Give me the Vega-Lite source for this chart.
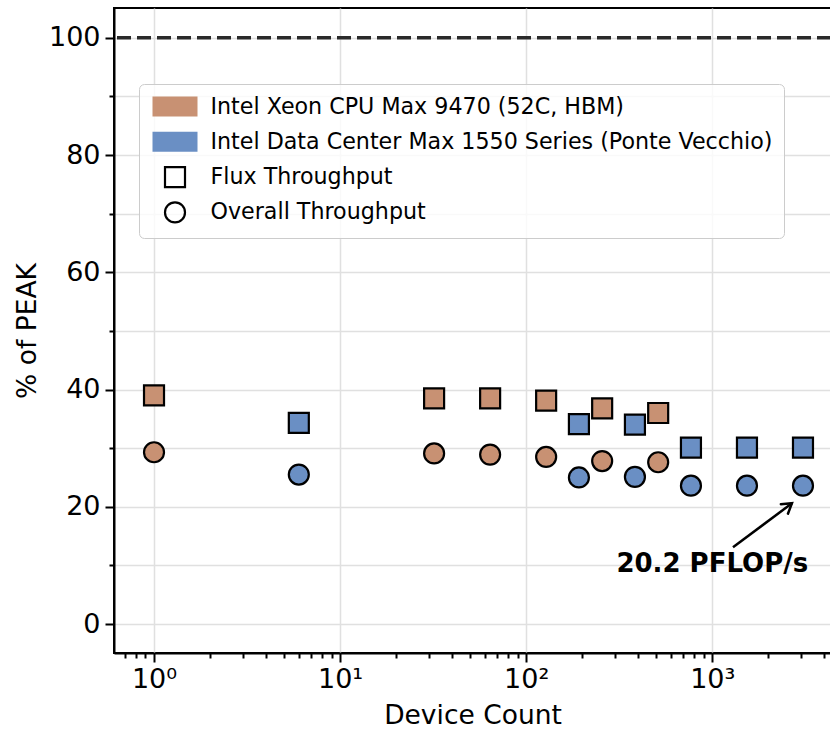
{
  "$schema": "https://vega.github.io/schema/vega-lite/v6.json",
  "autosize": "none",
  "width": 717,
  "height": 645,
  "padding": {"left": 114, "top": 8, "right": 0, "bottom": 83},
  "background": "white",
  "config": {
    "view": {"stroke": "black", "strokeWidth": 2},
    "font": "DejaVu Sans",
    "axis": {
      "domainColor": "black",
      "domainWidth": 2,
      "tickColor": "black",
      "tickWidth": 2,
      "gridColor": "#e0e0e0",
      "gridWidth": 1.5,
      "labelFont": "DejaVu Sans",
      "labelFontSize": 27,
      "labelColor": "black",
      "titleFont": "DejaVu Sans",
      "titleFontSize": 26.5,
      "titleFontWeight": "normal",
      "titleColor": "black",
      "labelFlush": false,
      "labelOverlap": false
    }
  },
  "datasets": {
    "points": [
      {"device": "Intel Xeon CPU Max 9470 (52C, HBM)", "metric": "Flux Throughput", "count": 1, "pct": 39.0},
      {"device": "Intel Xeon CPU Max 9470 (52C, HBM)", "metric": "Flux Throughput", "count": 32, "pct": 38.5},
      {"device": "Intel Xeon CPU Max 9470 (52C, HBM)", "metric": "Flux Throughput", "count": 64, "pct": 38.5},
      {"device": "Intel Xeon CPU Max 9470 (52C, HBM)", "metric": "Flux Throughput", "count": 128, "pct": 38.1},
      {"device": "Intel Xeon CPU Max 9470 (52C, HBM)", "metric": "Flux Throughput", "count": 256, "pct": 36.8},
      {"device": "Intel Xeon CPU Max 9470 (52C, HBM)", "metric": "Flux Throughput", "count": 512, "pct": 36.0},
      {"device": "Intel Xeon CPU Max 9470 (52C, HBM)", "metric": "Overall Throughput", "count": 1, "pct": 29.3},
      {"device": "Intel Xeon CPU Max 9470 (52C, HBM)", "metric": "Overall Throughput", "count": 32, "pct": 29.1},
      {"device": "Intel Xeon CPU Max 9470 (52C, HBM)", "metric": "Overall Throughput", "count": 64, "pct": 28.9},
      {"device": "Intel Xeon CPU Max 9470 (52C, HBM)", "metric": "Overall Throughput", "count": 128, "pct": 28.5},
      {"device": "Intel Xeon CPU Max 9470 (52C, HBM)", "metric": "Overall Throughput", "count": 256, "pct": 27.8},
      {"device": "Intel Xeon CPU Max 9470 (52C, HBM)", "metric": "Overall Throughput", "count": 512, "pct": 27.6},
      {"device": "Intel Data Center Max 1550 Series (Ponte Vecchio)", "metric": "Flux Throughput", "count": 6, "pct": 34.3},
      {"device": "Intel Data Center Max 1550 Series (Ponte Vecchio)", "metric": "Flux Throughput", "count": 192, "pct": 34.1},
      {"device": "Intel Data Center Max 1550 Series (Ponte Vecchio)", "metric": "Flux Throughput", "count": 384, "pct": 34.0},
      {"device": "Intel Data Center Max 1550 Series (Ponte Vecchio)", "metric": "Flux Throughput", "count": 768, "pct": 30.1},
      {"device": "Intel Data Center Max 1550 Series (Ponte Vecchio)", "metric": "Flux Throughput", "count": 1536, "pct": 30.1},
      {"device": "Intel Data Center Max 1550 Series (Ponte Vecchio)", "metric": "Flux Throughput", "count": 3072, "pct": 30.1},
      {"device": "Intel Data Center Max 1550 Series (Ponte Vecchio)", "metric": "Overall Throughput", "count": 6, "pct": 25.5},
      {"device": "Intel Data Center Max 1550 Series (Ponte Vecchio)", "metric": "Overall Throughput", "count": 192, "pct": 25.0},
      {"device": "Intel Data Center Max 1550 Series (Ponte Vecchio)", "metric": "Overall Throughput", "count": 384, "pct": 25.1},
      {"device": "Intel Data Center Max 1550 Series (Ponte Vecchio)", "metric": "Overall Throughput", "count": 768, "pct": 23.6},
      {"device": "Intel Data Center Max 1550 Series (Ponte Vecchio)", "metric": "Overall Throughput", "count": 1536, "pct": 23.6},
      {"device": "Intel Data Center Max 1550 Series (Ponte Vecchio)", "metric": "Overall Throughput", "count": 3072, "pct": 23.6}
    ],
    "peak": [
      {"pct": 100}
    ],
    "arrow": [
      {"count": 1292, "pct": 13.1, "count2": 2680, "pct2": 20.6}
    ],
    "label": [
      {"count": 1000, "pct": 10.3, "text": "20.2 PFLOP/s"}
    ]
  },
  "layer": [
    {
      "data": {"name": "points"},
      "mark": {"type": "point", "filled": true, "opacity": 1, "size": 400},
      "encoding": {
        "x": {
          "field": "count",
          "type": "quantitative",
          "scale": {"type": "log", "domain": [0.6095, 4345], "nice": false},
          "axis": {
            "title": "Device Count",
            "values": [0.7, 0.8, 0.9, 1, 2, 3, 4, 5, 6, 7, 8, 9, 10, 20, 30, 40, 50, 60, 70, 80, 90, 100, 200, 300, 400, 500, 600, 700, 800, 900, 1000, 2000, 3000, 4000],
            "labelExpr": "abs(log(datum.value)/LN10 - round(log(datum.value)/LN10)) < 1e-6 ? '10' + ['⁰','¹','²','³'][round(log(datum.value)/LN10)] : ''",
            "tickSize": {"condition": {"test": "abs(log(datum.value)/LN10 - round(log(datum.value)/LN10)) < 1e-6", "value": 9}, "value": 5},
            "gridOpacity": {"condition": {"test": "abs(log(datum.value)/LN10 - round(log(datum.value)/LN10)) < 1e-6", "value": 1}, "value": 0},
            "labelPadding": 4,
            "titlePadding": 10
          }
        },
        "y": {
          "field": "pct",
          "type": "quantitative",
          "scale": {"domain": [-4.94, 105.08], "nice": false, "zero": false},
          "axis": {
            "title": "% of PEAK",
            "values": [0, 10, 20, 30, 40, 50, 60, 70, 80, 90, 100],
            "labelExpr": "datum.value % 20 === 0 ? datum.value : ''",
            "tickSize": {"condition": {"test": "datum.value % 20 === 0", "value": 9}, "value": 5},
            "labelPadding": 5,
            "titlePadding": 7
          }
        },
        "color": {
          "field": "device",
          "type": "nominal",
          "scale": {
            "domain": ["Intel Xeon CPU Max 9470 (52C, HBM)", "Intel Data Center Max 1550 Series (Ponte Vecchio)", "Flux Throughput", "Overall Throughput"],
            "range": ["#c89173", "#6a8fc4", "transparent", "transparent"]
          },
          "legend": {
            "orient": "none",
            "legendX": 25,
            "legendY": 76,
            "title": null,
            "symbolSize": 400,
            "symbolStrokeWidth": 2.2,
            "symbolOpacity": 1,
            "symbolOffset": 13.5,
            "symbolType": {"expr": "datum.value === 'Flux Throughput' ? 'square' : datum.value === 'Overall Throughput' ? 'circle' : 'M-2.25,-1H2.25V1H-2.25Z'"},
            "symbolStrokeColor": {"expr": "datum.value === 'Flux Throughput' || datum.value === 'Overall Throughput' ? 'black' : 'transparent'"},
            "labelOffset": 24,
            "rowPadding": 6.3,
            "padding": 11,
            "fillColor": "rgba(255,255,255,0.8)",
            "strokeColor": "#cccccc",
            "cornerRadius": 5,
            "labelFont": "DejaVu Sans",
            "labelFontSize": 22.2,
            "labelColor": "black",
            "labelLimit": 800
          }
        },
        "shape": {
          "field": "metric",
          "type": "nominal",
          "scale": {"domain": ["Flux Throughput", "Overall Throughput"], "range": ["square", "circle"]},
          "legend": null
        }
      }
    },
    {
      "data": {"name": "points"},
      "mark": {"type": "point", "filled": false, "stroke": "black", "strokeWidth": 2.2, "opacity": 1, "size": 400},
      "encoding": {
        "x": {"field": "count", "type": "quantitative"},
        "y": {"field": "pct", "type": "quantitative"},
        "shape": {"field": "metric", "type": "nominal", "legend": null}
      }
    },
    {
      "data": {"name": "peak"},
      "mark": {"type": "rule", "strokeDash": [14, 6], "stroke": "#2a2a2a", "strokeWidth": 3.5},
      "encoding": {"y": {"field": "pct", "type": "quantitative"}}
    },
    {
      "data": {"name": "arrow"},
      "mark": {"type": "rule", "stroke": "black", "strokeWidth": 2.5},
      "encoding": {
        "x": {"field": "count", "type": "quantitative"},
        "y": {"field": "pct", "type": "quantitative"},
        "x2": {"field": "count2"},
        "y2": {"field": "pct2"}
      }
    },
    {
      "data": {"name": "arrow"},
      "mark": {"type": "point", "shape": "M-0.5,0.8L0,0L0.5,0.8", "filled": false, "stroke": "black", "strokeWidth": 2.5, "size": 560, "angle": 53, "opacity": 1, "strokeCap": "round"},
      "encoding": {
        "x": {"field": "count2", "type": "quantitative"},
        "y": {"field": "pct2", "type": "quantitative"}
      }
    },
    {
      "data": {"name": "label"},
      "mark": {"type": "text", "font": "DejaVu Sans", "fontWeight": "bold", "fontSize": 26, "align": "center", "baseline": "middle", "color": "black"},
      "encoding": {
        "x": {"field": "count", "type": "quantitative"},
        "y": {"field": "pct", "type": "quantitative"},
        "text": {"field": "text"}
      }
    }
  ]
}
